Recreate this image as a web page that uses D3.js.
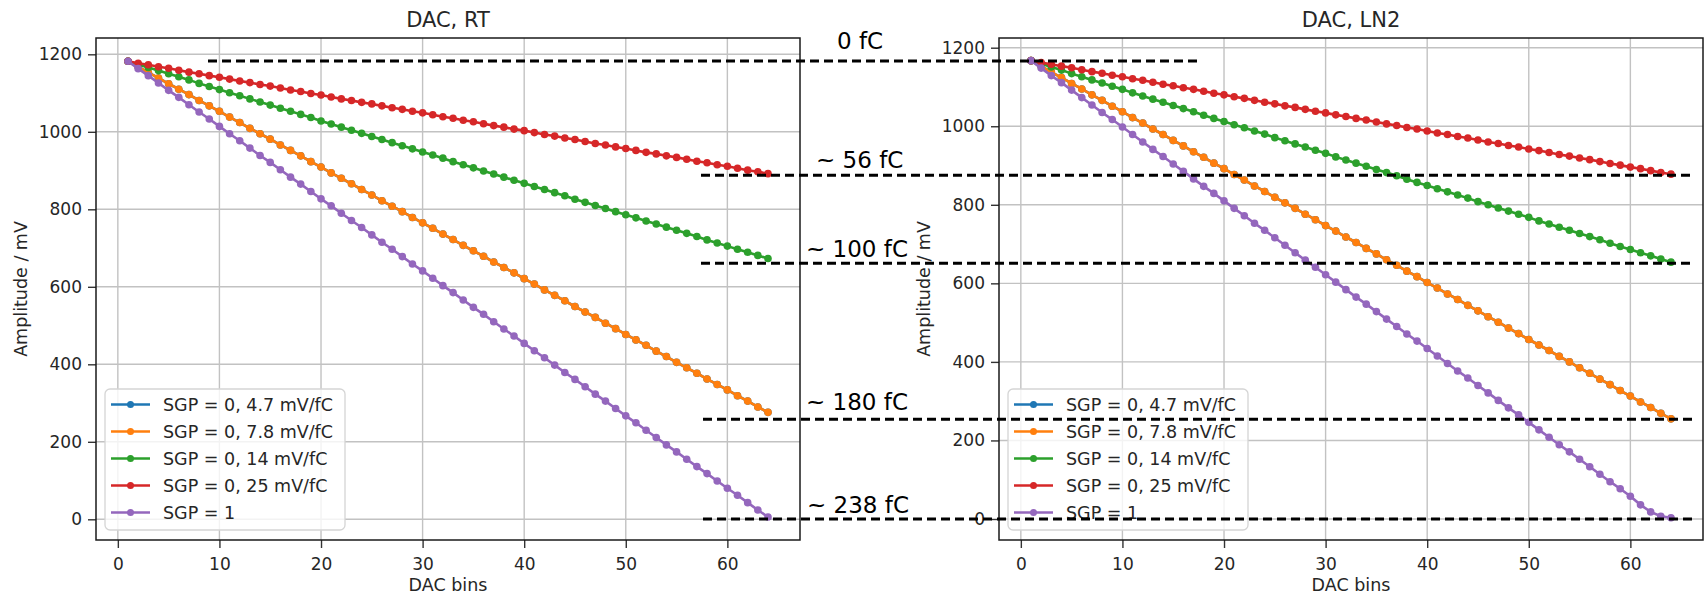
<!DOCTYPE html>
<html>
<head>
<meta charset="utf-8">
<script src="https://cdn.jsdelivr.net/npm/d3@7"></script>
<style>
  html, body { margin: 0; padding: 0; background: #fff; }
  svg { display: block; }
  text { font-family: "DejaVu Sans", sans-serif; }
</style>
</head>
<body>
<svg id="chart" width="1706" height="594"></svg>
<script>
// ---- data -------------------------------------------------------------
const dacBins = [1,2,3,4,5,6,7,8,9,10,11,12,13,14,15,16,17,18,19,20,
  21,22,23,24,25,26,27,28,29,30,31,32,33,34,35,36,37,38,39,40,
  41,42,43,44,45,46,47,48,49,50,51,52,53,54,55,56,57,58,59,60,
  61,62,63,64];

const seriesLabels = ["SGP = 0, 4.7 mV/fC", "SGP = 0, 7.8 mV/fC", "SGP = 0, 14 mV/fC", "SGP = 0, 25 mV/fC", "SGP = 1"];
const seriesColors = ["#1f77b4", "#ff7f0e", "#2ca02c", "#d62728", "#9467bd"];

// Room temperature amplitudes (mV)
const rtGain47 = [1182,1168,1153,1139,1124,1110,1096,1081,1067,1053,
  1038,1024,1009,995,981,966,952,938,923,909,
  894,880,866,851,837,822,808,794,779,765,
  751,736,722,707,693,679,664,650,636,621,
  607,592,578,564,549,535,521,506,492,477,
  463,449,434,420,405,391,377,362,348,334,
  319,305,290,276];
const rtGain78 = [1182,1168,1153,1139,1124,1110,1096,1081,1067,1053,
  1038,1024,1009,995,981,966,952,938,923,909,
  894,880,866,851,837,822,808,794,779,765,
  751,736,722,707,693,679,664,650,636,621,
  607,592,578,564,549,535,521,506,492,477,
  463,449,434,420,405,391,377,362,348,334,
  319,305,290,276];
const rtGain14 = [1182,1174,1166,1158,1150,1142,1134,1125,1117,1109,
  1101,1093,1085,1077,1069,1061,1053,1045,1037,1028,
  1020,1012,1004,996,988,980,972,964,956,948,
  940,932,923,915,907,899,891,883,875,867,
  859,851,843,835,826,818,810,802,794,786,
  778,770,762,754,746,738,730,721,713,705,
  697,689,681,673];
const rtGain25 = [1182,1177,1173,1168,1164,1159,1154,1150,1145,1141,
  1136,1131,1127,1122,1118,1113,1108,1104,1099,1095,
  1090,1085,1081,1076,1072,1067,1062,1058,1053,1049,
  1044,1039,1035,1030,1026,1021,1016,1012,1007,1003,
  998,993,989,984,980,975,970,966,961,957,
  952,947,943,938,934,929,924,920,915,911,
  906,901,897,892];
const rtSgp1 = [1182,1163,1145,1126,1107,1089,1070,1051,1033,1014,
  995,977,958,939,921,902,883,865,846,827,
  809,790,771,753,734,715,697,678,659,641,
  622,603,585,566,547,529,510,491,473,454,
  435,417,398,379,361,342,323,305,286,267,
  249,230,211,192,174,155,136,118,99,80,
  62,43,24,6];

// Liquid nitrogen amplitudes (mV)
const lnGain47 = [1167,1153,1138,1124,1109,1095,1080,1066,1051,1037,
  1022,1008,993,979,964,950,935,921,906,892,
  877,863,848,834,819,805,791,776,762,747,
  733,718,704,689,675,660,646,631,617,602,
  588,573,559,544,530,515,501,486,472,457,
  443,429,414,400,385,371,356,342,327,313,
  298,284,269,255];
const lnGain78 = [1167,1153,1138,1124,1109,1095,1080,1066,1051,1037,
  1022,1008,993,979,964,950,935,921,906,892,
  877,863,848,834,819,805,791,776,762,747,
  733,718,704,689,675,660,646,631,617,602,
  588,573,559,544,530,515,501,486,472,457,
  443,429,414,400,385,371,356,342,327,313,
  298,284,269,255];
const lnGain14 = [1167,1159,1151,1143,1134,1126,1118,1110,1102,1094,
  1085,1077,1069,1061,1053,1045,1037,1028,1020,1012,
  1004,996,988,980,971,963,955,947,939,931,
  922,914,906,898,890,882,874,865,857,849,
  841,833,825,817,808,800,792,784,776,768,
  759,751,743,735,727,719,711,702,694,686,
  678,670,662,654];
const lnGain25 = [1167,1162,1158,1153,1149,1144,1139,1135,1130,1126,
  1121,1117,1112,1107,1103,1098,1094,1089,1084,1080,
  1075,1071,1066,1061,1057,1052,1048,1043,1038,1034,
  1029,1025,1020,1016,1011,1006,1002,997,993,988,
  983,979,974,970,965,960,956,951,947,942,
  938,933,928,924,919,915,910,905,901,896,
  892,887,882,878];
const lnSgp1 = [1167,1148,1129,1111,1092,1073,1054,1035,1017,998,
  979,960,941,923,904,885,866,847,829,810,
  791,772,753,735,716,697,678,659,641,622,
  603,584,565,547,528,509,490,471,453,434,
  415,396,377,359,340,321,302,283,265,246,
  227,208,189,171,152,133,114,95,77,58,
  36,18,7,3];

const xTickValues = [0, 10, 20, 30, 40, 50, 60];
const yTickValues = [0, 200, 400, 600, 800, 1000, 1200];
const panelTitles = ["DAC, RT", "DAC, LN2"];
const xAxisLabel = "DAC bins";
const yAxisLabel = "Amplitude / mV";

// charge markers: amplitude level (mV, LN2 axis) and its label
const chargeLevels = [1166, 875, 651, 254, 0];
const chargeLabels = ["0 fC", "~ 56 fC", "~ 100 fC", "~ 180 fC", "~ 238 fC"];

// ---- drawing ----------------------------------------------------------
const svg = d3.select("#chart");
svg.append("rect").attr("width", 1706).attr("height", 594).attr("fill", "#fff");

const textColor = "#262626";

function drawPanel(cfg) {
  const { left, top, width, height, yDomain, series, title } = cfg;
  const x = d3.scaleLinear().domain([-2.15, 67.15]).range([left, left + width]);
  const y = d3.scaleLinear().domain(yDomain).range([top + height, top]);
  const g = svg.append("g");

  // grid
  g.append("g").selectAll("line").data(xTickValues).join("line")
    .attr("x1", d => x(d)).attr("x2", d => x(d))
    .attr("y1", top).attr("y2", top + height)
    .attr("stroke", "#c2c2c2").attr("stroke-width", 1.4);
  g.append("g").selectAll("line").data(yTickValues).join("line")
    .attr("x1", left).attr("x2", left + width)
    .attr("y1", d => y(d)).attr("y2", d => y(d))
    .attr("stroke", "#c2c2c2").attr("stroke-width", 1.4);

  // axes
  const fmt = d3.format("d");
  const xAxis = d3.axisBottom(x).tickValues(xTickValues).tickFormat(fmt).tickSize(8).tickPadding(6);
  const yAxis = d3.axisLeft(y).tickValues(yTickValues).tickFormat(fmt).tickSize(8).tickPadding(6);
  const gx = g.append("g").attr("transform", `translate(0,${top + height})`).call(xAxis);
  const gy = g.append("g").attr("transform", `translate(${left},0)`).call(yAxis);
  [gx, gy].forEach(a => {
    a.select(".domain").remove();
    a.selectAll(".tick line").attr("stroke", "#333").attr("stroke-width", 1.4);
    a.selectAll(".tick text").attr("fill", textColor).attr("font-size", 17)
      .attr("font-family", "DejaVu Sans");
  });
  gx.selectAll(".tick text").attr("dy", "0.95em");

  // series
  const line = d3.line().x(d => x(d[0])).y(d => y(d[1]));
  series.forEach((vals, i) => {
    const pts = dacBins.map((b, k) => [b, vals[k]]);
    const sg = g.append("g");
    sg.append("path").datum(pts).attr("d", line)
      .attr("fill", "none").attr("stroke", seriesColors[i]).attr("stroke-width", 2.6);
    sg.selectAll("circle").data(pts).join("circle")
      .attr("cx", d => x(d[0])).attr("cy", d => y(d[1])).attr("r", 3.8)
      .attr("fill", seriesColors[i]);
  });

  // frame
  g.append("rect").attr("x", left).attr("y", top).attr("width", width).attr("height", height)
    .attr("fill", "none").attr("stroke", "#1a1a1a").attr("stroke-width", 1.5);

  // title and axis labels
  g.append("text").attr("x", left + width / 2).attr("y", 26.5).attr("text-anchor", "middle")
    .attr("font-size", 21).attr("fill", textColor).text(title);
  g.append("text").attr("x", left + width / 2).attr("y", 591).attr("text-anchor", "middle")
    .attr("font-size", 17.5).attr("fill", textColor).text(xAxisLabel);
  g.append("text").attr("transform", `translate(${left - 69},${top + height / 2}) rotate(-90)`)
    .attr("text-anchor", "middle").attr("font-size", 17.5).attr("fill", textColor).text(yAxisLabel);

  // legend
  const lg = g.append("g").attr("transform", `translate(${left + 9},${top + 351})`);
  lg.append("rect").attr("width", 240).attr("height", 141).attr("rx", 5)
    .attr("fill", "#fff").attr("fill-opacity", 0.8).attr("stroke", "#d5d5d5").attr("stroke-width", 1.3);
  seriesLabels.forEach((lab, i) => {
    const cy = 15.5 + i * 27;
    lg.append("line").attr("x1", 6).attr("x2", 45).attr("y1", cy).attr("y2", cy)
      .attr("stroke", seriesColors[i]).attr("stroke-width", 2.6);
    lg.append("circle").attr("cx", 25.5).attr("cy", cy).attr("r", 3.5).attr("fill", seriesColors[i]);
    lg.append("text").attr("x", 58).attr("y", cy).attr("dy", "0.36em")
      .attr("font-size", 17.5).attr("fill", textColor).text(lab);
  });

  return { x, y };
}

const rt = drawPanel({
  left: 96, top: 38, width: 704, height: 502,
  yDomain: [-53.4, 1242.1],
  series: [rtGain47, rtGain78, rtGain14, rtGain25, rtSgp1],
  title: panelTitles[0]
});
const ln = drawPanel({
  left: 999, top: 38, width: 704, height: 502,
  yDomain: [-53.5, 1224.7],
  series: [lnGain47, lnGain78, lnGain14, lnGain25, lnSgp1],
  title: panelTitles[1]
});

// charge reference lines across both panels
const overlay = svg.append("g");
const lineSpans = [[208, 1199], [701, 1693], [701, 1693], [703, 1694], [703, 1694]];
const labelX = [837, 816, 806, 806, 807];
const labelLift = [12.5, 7.5, 6.5, 9.3, 6];
chargeLevels.forEach((lvl, i) => {
  const yy = ln.y(lvl);
  overlay.append("line")
    .attr("x1", lineSpans[i][0]).attr("x2", lineSpans[i][1])
    .attr("y1", yy).attr("y2", yy)
    .attr("stroke", "#000").attr("stroke-width", 3).attr("stroke-dasharray", "9,5");
  overlay.append("text")
    .attr("x", labelX[i]).attr("y", yy - labelLift[i])
    .attr("font-size", 23).attr("fill", "#000").text(chargeLabels[i]);
});
</script>
</body>
</html>
